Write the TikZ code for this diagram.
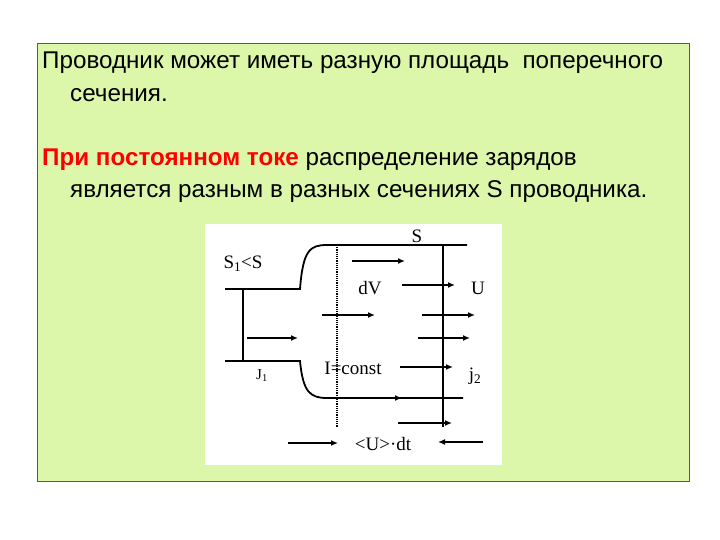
\documentclass[tikz,border=0pt]{standalone}
\usepackage{fontspec}
\usetikzlibrary{arrows.meta}
\setmainfont{Liberation Sans}
\newfontfamily\serf{Liberation Serif}
\begin{document}
\begin{tikzpicture}[x=1pt,y=-1pt,
 wire/.style={line width=1.8pt},
 arr/.style={line width=1.8pt,-{Latex[length=7pt,width=6pt]}},
 lab/.style={font=\serf\fontsize{19}{19}\selectfont,inner sep=0pt},
 txt/.style={anchor=west,inner sep=0pt,font=\fontsize{24.2}{26}\selectfont}]
\path[use as bounding box] (0,0) rectangle (720,540);
\fill[white] (0,0) rectangle (720,540);
\draw[fill={rgb,255:red,221;green,247;blue,170},draw=gray!70!black,line width=0.6pt] (37,43) rectangle (689,481);
\node[txt] (l1) at (42,63) {Проводник может иметь разную площадь\ \ поперечного};
\node[txt] (l2) at (70,95) {сечения.};
\node[txt] (l3) at (42,160) {\textcolor{red}{\bfseries При постоянном токе} распределение зарядов};
\node[txt] (l4) at (70,192) {является разным в разных сечениях S проводника.};
\fill[white] (205,224) rectangle (502,465);
% wires
\draw[wire] (225,289) -- (300,289) .. controls (303,250) and (310,245) .. (327,245) -- (467,245);
\draw[wire] (225,361) -- (300,361) .. controls (303,392) and (310,398) .. (327,398) -- (463,398);
\draw[wire] (243,289) -- (243,361);
\draw[line width=1.2pt,densely dotted] (337,245) -- (337,427);
\draw[wire] (443,245) -- (443,427);
% arrows
\foreach \a/\b/\c in {352/405/261, 402/455/285, 322/375/315, 422/475/315, 418/470/338, 247/298/338, 400/453/367, 350/402/398, 398/452/423, 288/338/443}
  \draw[arr] (\a,\c) -- (\b,\c);
\draw[arr] (483,442) -- (438,442);
\node[lab] (s) at (417,236) {S};
\node[lab] (s1) at (243,264) {S\textsubscript{1}<S};
\node[lab] (dv) at (370,288) {dV};
\node[lab] (u) at (478,288) {U};
\node[lab,font=\serf\fontsize{15}{15}\selectfont] (j1) at (262,376) {J\textsubscript{1}};
\node[lab] (ic) at (353,368) {I=const};
\node[lab] (j2) at (475,376) {j\textsubscript{2}};
\node[lab] (ud) at (383,444) {<U>·dt};
\end{tikzpicture}
\end{document}
